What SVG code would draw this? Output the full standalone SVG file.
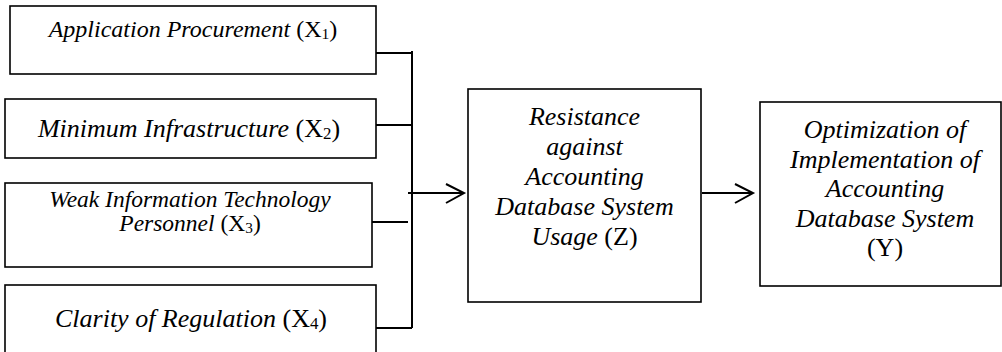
<svg xmlns="http://www.w3.org/2000/svg" width="1002" height="352" viewBox="0 0 1002 352">
<style>
.box{fill:#fff;stroke:#000;stroke-width:1.6}
.t{font-family:"Liberation Serif","Times New Roman",serif;fill:#000;text-anchor:middle}
.i{font-style:italic}
.s{font-size:65%}
.ln{stroke:#000;stroke-width:2;fill:none}
</style>
<rect width="1002" height="352" fill="#fff"/>
<g id="x1">
<rect class="box" x="10" y="6" width="366" height="68"/>
<text class="t" x="193" y="37" font-size="24"><tspan class="i">Application Procurement</tspan> (X<tspan class="s" dy="2">1</tspan><tspan dy="-2">)</tspan></text>
</g>
<g id="x2">
<rect class="box" x="5" y="99" width="371" height="59"/>
<text class="t" x="189" y="137" font-size="26"><tspan class="i">Minimum Infrastructure</tspan> (X<tspan class="s" dy="2">2</tspan><tspan dy="-2">)</tspan></text>
</g>
<g id="x3">
<rect class="box" x="5" y="183" width="367" height="84"/>
<text class="t" x="190" y="207" font-size="23.5"><tspan class="i">Weak Information Technology</tspan><tspan x="190" dy="24"><tspan class="i">Personnel</tspan> (X<tspan class="s" dy="2">3</tspan><tspan dy="-2">)</tspan></tspan></text>
</g>
<g id="x4">
<rect class="box" x="5" y="285" width="371" height="80"/>
<text class="t" x="191" y="327" font-size="26"><tspan class="i">Clarity of Regulation</tspan> (X<tspan class="s" dy="2">4</tspan><tspan dy="-2">)</tspan></text>
</g>
<g id="z">
<rect class="box" x="468" y="89" width="233" height="213"/>
<text class="t" x="584.5" y="125" font-size="26"><tspan class="i">Resistance</tspan><tspan class="i" x="584.5" dy="30">against</tspan><tspan class="i" x="584.5" dy="30">Accounting</tspan><tspan class="i" x="584.5" dy="30">Database System</tspan><tspan x="584.5" dy="30"><tspan class="i">Usage</tspan> (Z)</tspan></text>
</g>
<g id="y">
<rect class="box" x="760" y="102" width="241" height="184"/>
<text class="t" x="885" y="138" font-size="26"><tspan class="i">Optimization of</tspan><tspan class="i" x="885" dy="29.5">Implementation of</tspan><tspan class="i" x="885" dy="29.5">Accounting</tspan><tspan class="i" x="885" dy="29.5">Database System</tspan><tspan x="885" dy="29.5">(Y)</tspan></text>
</g>
<g id="connectors">
<path class="ln" d="M412 51V328M376 53H412M376 125H412M372 222H408M376 328H412"/>
<path class="ln" d="M408 193H464M446 184L464 193L446 203"/>
<path class="ln" d="M702 193H753M735 184L753 193L735 203"/>
</g>
</svg>
